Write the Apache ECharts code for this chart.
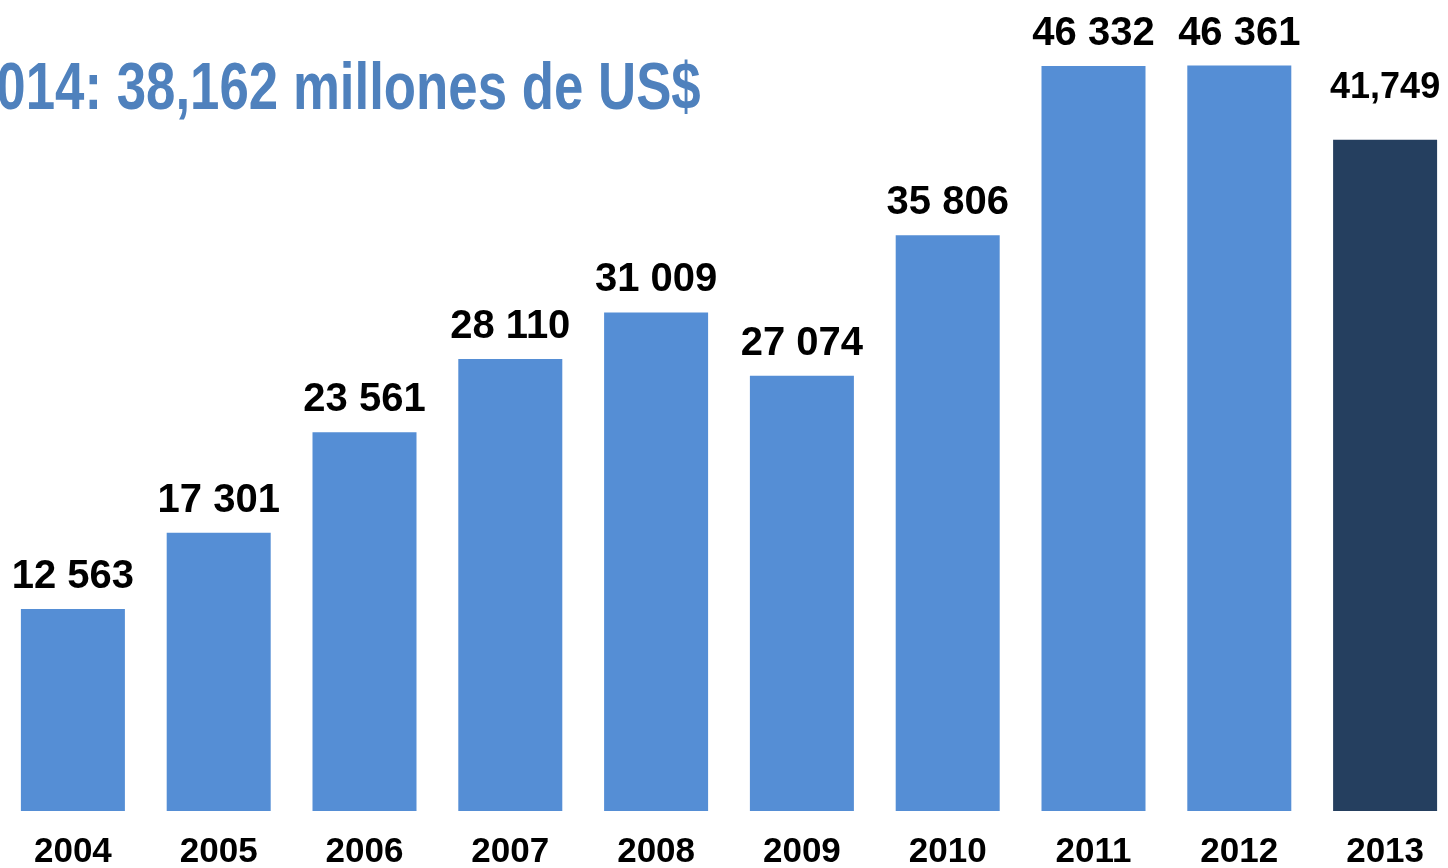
<!DOCTYPE html>
<html><head><meta charset="utf-8">
<script src="https://cdn.jsdelivr.net/npm/echarts@6/dist/echarts.min.js"></script>
<style>html,body{margin:0;padding:0;background:#fff}#c{width:1448px;height:868px}</style>
</head><body><div id="c"></div>
<script>
var categories = ['2004','2005','2006','2007','2008','2009','2010','2011','2012','2013'];
var values = [12563, 17301, 23561, 28110, 31009, 27074, 35806, 46332, 46361, 41749];
var labels = ['12 563','17 301','23 561','28 110','31 009','27 074','35 806','46 332','46 361','41,749'];
var titleText = '2014: 38,162 millones de US$';

var chart = echarts.init(document.getElementById('c'));
var data = values.map(function(v, i){
  var last = i === values.length - 1;
  return {
    value: v,
    itemStyle: { color: last ? '#253F5F' : '#558ED5' },
    label: last ? { fontSize: 36, distance: 34 } : {}
  };
});
chart.setOption({
  animation: false,
  grid: { left: 0, right: -10, top: 7, bottom: 57, outerBoundsMode: 'none', containLabel: false },
  xAxis: {
    type: 'category', data: categories,
    axisLine: { show: false }, axisTick: { show: false },
    axisLabel: { color: '#000', fontWeight: 'bold', fontSize: 35, fontFamily: 'Liberation Sans, Arial', margin: 24, interval: 0 }
  },
  yAxis: { type: 'value', min: 0, max: 50000, show: false, splitLine: { show: false } },
  series: [{
    type: 'bar', data: data, barWidth: 104,
    label: {
      show: true, position: 'top', distance: 12,
      color: '#000', fontWeight: 'bold', fontSize: 40, fontFamily: 'Liberation Sans, Arial',
      formatter: function(p){ return labels[p.dataIndex]; }
    }
  }],
  graphic: [{
    type: 'text', x: -33, y: 58, scaleX: 0.8,
    style: { text: titleText, fill: '#4F81BD', font: 'bold 66px "Liberation Sans", Arial' }
  }]
});
</script></body></html>
